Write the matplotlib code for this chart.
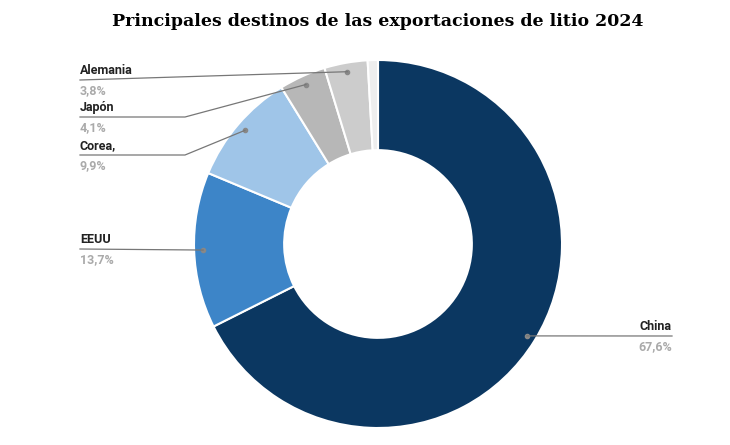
import matplotlib
matplotlib.use("Agg")
import matplotlib.pyplot as plt
import numpy as np

categories = ["China", "EEUU", "Corea,", "Japón", "Alemania", "Otros"]
values = [67.6, 13.7, 9.9, 4.1, 3.8, 0.9]
pct_labels = ["67,6%", "13,7%", "9,9%", "4,1%", "3,8%", ""]
colors = ["#0b3761", "#3d85c8", "#9fc5e8", "#b7b7b7", "#cccccc", "#eeeeee"]

W, H = 730, 445
fig = plt.figure(figsize=(7.3, 4.45), dpi=100)
ax = fig.add_axes([0, 0, 1, 1])
ax.set_xlim(0, W); ax.set_ylim(0, H); ax.axis("off")

cx, cy, R = 378, H - 244, 184
ax.pie(values, colors=colors, startangle=90, counterclock=False, center=(cx, cy), radius=R,
       wedgeprops=dict(width=R * 0.49, edgecolor="white", linewidth=1.5), frame=True)
ax.set_xlim(0, W); ax.set_ylim(0, H); ax.axis("off"); ax.set_aspect("auto")

fig.text(378 / W, 1 - 22 / H, "Principales destinos de las exportaciones de litio 2024",
         ha="center", va="center", fontsize=12.5, fontweight="bold", family="DejaVu Serif")

# label layout (pixel y from top): (label line y, elbow x, text x, align)
layout = {
    "China": (336, None, 672, "right"),
    "EEUU": (249, None, 80, "left"),
    "Corea,": (155, 185, 80, "left"),
    "Japón": (117, 185, 80, "left"),
    "Alemania": (80, None, 80, "left"),
}
total = sum(values)
cum = 0
for cat, v, p in zip(categories, values, pct_labels):
    mid = cum + v / 2
    cum += v
    if cat not in layout:
        continue
    ang = np.deg2rad(90 - mid / total * 360)
    dx, dy = cx + 175 * np.cos(ang), cy + 175 * np.sin(ang)
    ly, ex, tx, al = layout[cat]
    ly = H - ly
    ax.plot([dx], [dy], "o", color="#888888", ms=3)
    if ex is not None:
        xs, ys = [dx, ex, tx], [dy, ly, ly]
    else:
        xs, ys = [dx, tx], [dy, ly]
    ax.plot(xs, ys, color="#777777", lw=0.9)
    ax.text(tx, ly + 3, cat, ha=al, va="bottom", fontsize=9, fontweight="bold",
            color="#222222", family="Roboto")
    ax.text(tx, ly - 4, p, ha=al, va="top", fontsize=9, fontweight="bold",
            color="#aaaaaa", family="Roboto")

fig.savefig("out.png", dpi=100, facecolor="white")
